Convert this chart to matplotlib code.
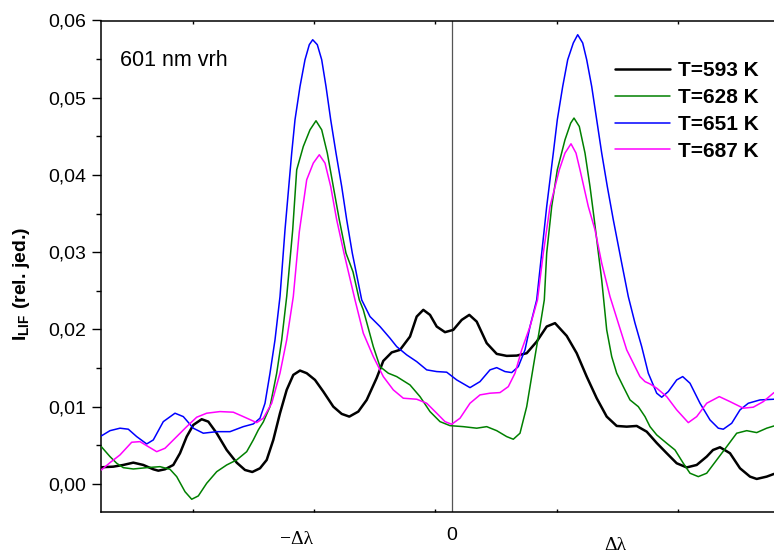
import matplotlib
matplotlib.use("Agg")
import matplotlib.pyplot as plt
import matplotlib.ticker as mticker
import matplotlib.transforms as mtransforms
import numpy as np

plt.rcParams['font.family'] = ['Liberation Sans', 'DejaVu Sans']
plt.rcParams['mathtext.fontset'] = 'custom'
plt.rcParams['mathtext.rm'] = 'Liberation Sans'
plt.rcParams['mathtext.bf'] = 'Liberation Sans:bold'

# wavelength offset (arbitrary units, 0 = line centre) and LIF intensity (rel. jed.)
# T = 593 K
x_593 = [-3.507, -3.450, -3.387, -3.287, -3.187, -3.087, -2.987, -2.937, -2.870, -2.787,
         -2.720, -2.653, -2.587, -2.503, -2.437, -2.353, -2.253, -2.153, -2.070, -1.997,
         -1.920, -1.853, -1.787, -1.720, -1.653, -1.587, -1.520, -1.453, -1.370, -1.287,
         -1.187, -1.103, -1.027, -0.937, -0.853, -0.753, -0.687, -0.603, -0.520, -0.420,
         -0.353, -0.287, -0.220, -0.153, -0.070, 0.013, 0.097, 0.173, 0.247, 0.347,
         0.447, 0.547, 0.647, 0.747, 0.847, 0.947, 1.030, 1.147, 1.247, 1.347,
         1.447, 1.547, 1.647, 1.747, 1.847, 1.947, 2.047, 2.147, 2.247, 2.347,
         2.447, 2.547, 2.610, 2.680, 2.780, 2.880, 2.980, 3.047, 3.147, 3.220]
y_593 = [0.00216, 0.00220, 0.00224, 0.00246, 0.00276, 0.00246, 0.00190, 0.00172, 0.00190, 0.00246,
         0.00398, 0.00613, 0.00764, 0.00838, 0.00807, 0.00657, 0.00440, 0.00276, 0.00181, 0.00155,
         0.00203, 0.00311, 0.00570, 0.00916, 0.01218, 0.01412, 0.01468, 0.01434, 0.01347, 0.01196,
         0.01001, 0.00907, 0.00872, 0.00937, 0.01088, 0.01373, 0.01593, 0.01703, 0.01736, 0.01908,
         0.02167, 0.02254, 0.02189, 0.02038, 0.01965, 0.01995, 0.02124, 0.02189, 0.02102, 0.01823,
         0.01684, 0.01658, 0.01662, 0.01693, 0.01843, 0.02038, 0.02082, 0.01917, 0.01693, 0.01390,
         0.01110, 0.00872, 0.00751, 0.00742, 0.00751, 0.00677, 0.00531, 0.00398, 0.00268, 0.00214,
         0.00246, 0.00354, 0.00440, 0.00475, 0.00398, 0.00203, 0.00095, 0.00065, 0.00095, 0.00130]

# T = 628 K
x_628 = [-3.507, -3.420, -3.353, -3.287, -3.187, -3.053, -2.920, -2.820, -2.753, -2.670,
         -2.603, -2.537, -2.453, -2.353, -2.253, -2.153, -2.053, -1.987, -1.937, -1.887,
         -1.820, -1.753, -1.703, -1.653, -1.593, -1.553, -1.487, -1.420, -1.360, -1.303,
         -1.247, -1.187, -1.127, -1.060, -0.990, -0.927, -0.887, -0.787, -0.720, -0.637,
         -0.553, -0.420, -0.320, -0.220, -0.120, -0.020, 0.113, 0.247, 0.347, 0.447,
         0.547, 0.613, 0.680, 0.747, 0.813, 0.880, 0.923, 0.947, 0.997, 1.053,
         1.130, 1.187, 1.220, 1.273, 1.330, 1.380, 1.423, 1.497, 1.547, 1.597,
         1.647, 1.713, 1.780, 1.863, 1.930, 1.980, 2.047, 2.147, 2.230, 2.313,
         2.380, 2.463, 2.547, 2.647, 2.747, 2.847, 2.947, 3.047, 3.147, 3.220]
y_628 = [0.00483, 0.00354, 0.00268, 0.00211, 0.00194, 0.00211, 0.00224, 0.00190, 0.00095, -0.00100,
         -0.00198, -0.00155, 0.00009, 0.00159, 0.00246, 0.00311, 0.00418, 0.00570, 0.00699, 0.00803,
         0.01001, 0.01434, 0.01865, 0.02426, 0.03290, 0.04067, 0.04369, 0.04585, 0.04702, 0.04585,
         0.04284, 0.03851, 0.03420, 0.02988, 0.02746, 0.02383, 0.02254, 0.01778, 0.01519, 0.01434,
         0.01390, 0.01282, 0.01131, 0.00937, 0.00807, 0.00755, 0.00742, 0.00722, 0.00742, 0.00690,
         0.00613, 0.00579, 0.00657, 0.01001, 0.01519, 0.02038, 0.02383, 0.02988, 0.03592, 0.04067,
         0.04456, 0.04672, 0.04737, 0.04628, 0.04284, 0.03851, 0.03420, 0.02642, 0.01995, 0.01649,
         0.01434, 0.01260, 0.01088, 0.01001, 0.00872, 0.00742, 0.00635, 0.00527, 0.00440, 0.00268,
         0.00139, 0.00095, 0.00139, 0.00311, 0.00483, 0.00657, 0.00690, 0.00665, 0.00722, 0.00751]

# T = 651 K
x_651 = [-3.507, -3.420, -3.320, -3.237, -3.153, -3.053, -2.987, -2.887, -2.770, -2.687,
         -2.587, -2.487, -2.353, -2.220, -2.087, -1.987, -1.920, -1.870, -1.820, -1.770,
         -1.720, -1.670, -1.603, -1.570, -1.520, -1.470, -1.427, -1.393, -1.347, -1.303,
         -1.260, -1.213, -1.160, -1.103, -1.053, -0.997, -0.903, -0.820, -0.720, -0.620,
         -0.553, -0.453, -0.353, -0.253, -0.153, -0.053, 0.047, 0.180, 0.280, 0.380,
         0.447, 0.530, 0.597, 0.663, 0.730, 0.780, 0.847, 0.897, 0.947, 1.013,
         1.053, 1.107, 1.157, 1.213, 1.257, 1.307, 1.347, 1.397, 1.447, 1.497,
         1.553, 1.613, 1.697, 1.763, 1.830, 1.897, 1.963, 2.047, 2.097, 2.163,
         2.247, 2.307, 2.380, 2.480, 2.580, 2.663, 2.713, 2.797, 2.880, 2.963,
         3.080, 3.220]
y_651 = [0.00622, 0.00690, 0.00722, 0.00709, 0.00613, 0.00518, 0.00570, 0.00807, 0.00916, 0.00872,
         0.00722, 0.00657, 0.00677, 0.00677, 0.00742, 0.00777, 0.00851, 0.01045, 0.01434, 0.01865,
         0.02426, 0.03290, 0.04284, 0.04715, 0.05146, 0.05492, 0.05687, 0.05751, 0.05687, 0.05492,
         0.05146, 0.04715, 0.04284, 0.03851, 0.03420, 0.02988, 0.02383, 0.02167, 0.02038, 0.01887,
         0.01778, 0.01671, 0.01584, 0.01477, 0.01455, 0.01447, 0.01347, 0.01247, 0.01325, 0.01477,
         0.01506, 0.01455, 0.01442, 0.01519, 0.01736, 0.02038, 0.02383, 0.02988, 0.03592, 0.04284,
         0.04715, 0.05146, 0.05492, 0.05709, 0.05816, 0.05709, 0.05492, 0.05146, 0.04715, 0.04284,
         0.03851, 0.03420, 0.02859, 0.02426, 0.02082, 0.01778, 0.01434, 0.01175, 0.01123, 0.01196,
         0.01347, 0.01390, 0.01304, 0.01045, 0.00829, 0.00722, 0.00709, 0.00786, 0.00959, 0.01045,
         0.01088, 0.01097]

# T = 687 K
x_687 = [-3.507, -3.420, -3.320, -3.203, -3.120, -3.037, -2.953, -2.870, -2.753, -2.653,
         -2.553, -2.453, -2.320, -2.187, -2.087, -1.953, -1.887, -1.803, -1.720, -1.653,
         -1.587, -1.527, -1.453, -1.387, -1.327, -1.270, -1.213, -1.153, -1.080, -0.970,
         -0.887, -0.787, -0.687, -0.587, -0.487, -0.353, -0.253, -0.153, -0.070, -0.003,
         0.080, 0.180, 0.280, 0.380, 0.480, 0.563, 0.630, 0.697, 0.780, 0.855,
         0.913, 0.980, 1.073, 1.130, 1.190, 1.240, 1.280, 1.363, 1.430, 1.497,
         1.580, 1.663, 1.747, 1.830, 1.880, 1.930, 1.980, 2.047, 2.147, 2.247,
         2.363, 2.447, 2.547, 2.673, 2.780, 2.913, 3.013, 3.113, 3.220]
y_687 = [0.00181, 0.00276, 0.00376, 0.00540, 0.00548, 0.00483, 0.00418, 0.00462, 0.00613, 0.00742,
         0.00864, 0.00916, 0.00937, 0.00929, 0.00872, 0.00794, 0.00851, 0.01045, 0.01434, 0.01865,
         0.02426, 0.03264, 0.03938, 0.04154, 0.04262, 0.04154, 0.03851, 0.03420, 0.02988, 0.02383,
         0.01952, 0.01649, 0.01390, 0.01218, 0.01110, 0.01097, 0.01045, 0.00916, 0.00807, 0.00773,
         0.00851, 0.01045, 0.01153, 0.01175, 0.01183, 0.01260, 0.01434, 0.01736, 0.02038, 0.02383,
         0.02988, 0.03592, 0.04067, 0.04284, 0.04404, 0.04284, 0.04067, 0.03592, 0.03290, 0.02859,
         0.02426, 0.02082, 0.01736, 0.01519, 0.01390, 0.01325, 0.01295, 0.01240, 0.01131, 0.00959,
         0.00794, 0.00872, 0.01045, 0.01131, 0.01066, 0.00981, 0.00994, 0.01066, 0.01183]

labels = ['T=593 K', 'T=628 K', 'T=651 K', 'T=687 K']
colors = ['black', '#008000', '#0000ff', '#ff00ff']
widths = [1.8, 1.1, 1.1, 1.1]

fig = plt.figure(figsize=(7.74, 5.56), dpi=100)
ax = fig.add_axes([101 / 774, 1 - 512 / 556, (790 - 101) / 774, (512 - 20.5) / 556])

ax.axvline(0, color='#555555', lw=0.9, zorder=1)

series = [(x_593, y_593), (x_628, y_628), (x_651, y_651), (x_687, y_687)]
for (xs, ys), lab, col, lw in zip(series, labels, colors, widths):
    ax.plot(xs, ys, color=col, lw=lw, label=lab, zorder=3,
            solid_joinstyle='round', solid_capstyle='round')

ax.set_xlim(-3.51, 3.38)
ax.set_ylim(-0.00363, 0.06)

ax.yaxis.set_major_locator(mticker.MultipleLocator(0.01))
ax.yaxis.set_minor_locator(mticker.MultipleLocator(0.005))
ax.yaxis.set_major_formatter(mticker.FuncFormatter(lambda v, p: f'{v:.2f}'.replace('.', ',')))
ax.tick_params(axis='y', which='major', direction='out', length=6.5, width=1, labelsize=14, pad=4)
ax.tick_params(axis='y', which='minor', direction='out', length=3.5, width=1)

ax.set_xticks(np.arange(-2.59, 3.3, 1.212))
ax.tick_params(axis='x', which='major', direction='in', length=2, width=1,
               top=True, labelbottom=False)

for s in ['left', 'bottom', 'top', 'right']:
    ax.spines[s].set_linewidth(1.1)

# x-axis annotations
trans = mtransforms.blended_transform_factory(ax.transData, fig.transFigure)
ax.text(0, 1 - 536 / 556, '0', transform=trans, ha='center', va='center', fontsize=14)
ax.text(-1.55, 1 - 540 / 556, '\u2212\u0394\u03bb', transform=trans, ha='center', va='center',
        fontsize=14, family=['Liberation Serif', 'DejaVu Serif'])
ax.text(1.63, 1 - 545 / 556, '\u0394\u03bb', transform=trans, ha='center', va='center',
        fontsize=14, family=['Liberation Serif', 'DejaVu Serif'])

fig.text(22 / 774, 1 - 284 / 556, r'$\mathbf{I}_{\mathbf{LIF}}$ (rel. jed.)', rotation=90,
         ha='center', va='center', fontsize=14, fontweight='bold')

fig.text(120 / 774, 1 - 60 / 556, '601 nm vrh', ha='left', va='center', fontsize=15.5)

leg = ax.legend(loc='upper left', bbox_to_anchor=(615 / 774, 1 - 61 / 556),
                bbox_transform=fig.transFigure, frameon=False, borderpad=0,
                borderaxespad=0, handlelength=2.65, handletextpad=0.35,
                labelspacing=0.38, prop={'weight': 'bold', 'size': 15})

fig.savefig('out.png', dpi=100)
